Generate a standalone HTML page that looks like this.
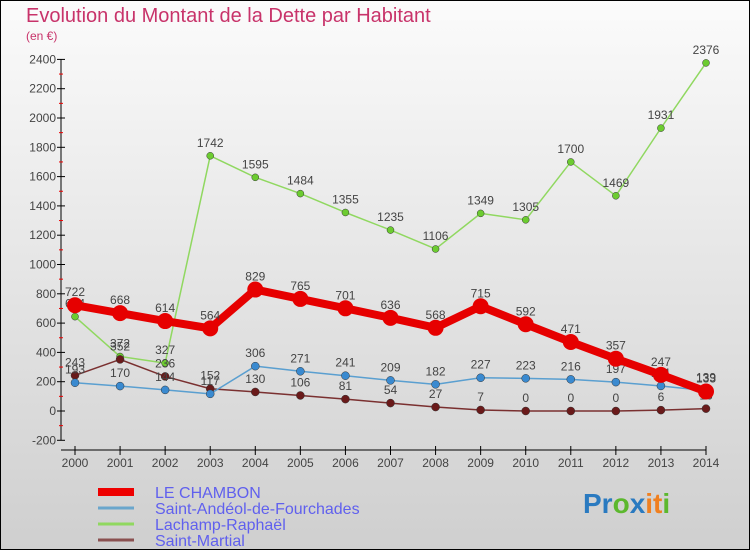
<!DOCTYPE html>
<html><head><meta charset="utf-8"><style>
body{margin:0;width:750px;height:550px;overflow:hidden}
svg{display:block;font-family:"Liberation Sans",sans-serif}
</style></head><body>
<svg id="c" width="750" height="550">
<defs><linearGradient id="bg" x1="0" y1="0" x2="0" y2="1"><stop offset="0" stop-color="#fbfbfb"/><stop offset="1" stop-color="#cfcfcf"/></linearGradient></defs>
<rect x="0.5" y="0.5" width="749" height="549" fill="url(#bg)" stroke="#000"/>
<text x="26" y="22" font-size="20" fill="#c8336a">Evolution du Montant de la Dette par Habitant</text>
<text x="26" y="40" font-size="12" fill="#c8336a">(en €)</text>
<g id="axes"></g><g id="series"></g><g id="legend"></g>
<text x="583" y="513" font-size="28" font-weight="bold"><tspan fill="#2a7ac0">Pr</tspan><tspan fill="#5cb82e">o</tspan><tspan fill="#2a7ac0">x</tspan><tspan fill="#f08020">it</tspan><tspan fill="#5cb82e">i</tspan></text>
</svg>
<script>
const years=[2000,2001,2002,2003,2004,2005,2006,2007,2008,2009,2010,2011,2012,2013,2014];
const chambon=[722,668,614,564,829,765,701,636,568,715,592,471,357,247,133];
const andeol=[193,170,144,117,306,271,241,209,182,227,223,216,197,171,139];
const lachamp=[644,372,327,1742,1595,1484,1355,1235,1106,1349,1305,1700,1469,1931,2376];
const martial=[243,352,236,152,130,106,81,54,27,7,0,0,0,6,16];
const yTicks=[-200,0,200,400,600,800,1000,1200,1400,1600,1800,2000,2200,2400];
const names=["LE CHAMBON","Saint-Andéol-de-Fourchades","Lachamp-Raphaël","Saint-Martial"];
const NS="http://www.w3.org/2000/svg";
const X=i=>75+i*(706-75)/14;
const Y=v=>411-v*0.1465;
function mk(p,t,a){const e=document.createElementNS(NS,t);for(const k in a)e.setAttribute(k,a[k]);p.appendChild(e);return e;}
const ax=document.getElementById('axes');
let l=mk(ax,'line',{x1:61,y1:Y(2400),x2:61,y2:Y(-200),stroke:'#000'});

l=mk(ax,'line',{x1:61,y1:450,x2:X(14),y2:450,stroke:'#000'});

yTicks.forEach(v=>{
  mk(ax,'line',{x1:57,y1:Y(v),x2:65,y2:Y(v),stroke:'#000'});
  if(v<2400)mk(ax,'line',{x1:59,y1:Y(v+100),x2:63,y2:Y(v+100),stroke:'#e00'});
  const t=mk(ax,'text',{x:56,y:Y(v)+4,'font-size':12,'text-anchor':'end',fill:'#444'});t.textContent=v;
  
});
years.forEach((y,i)=>{
  mk(ax,'line',{x1:X(i),y1:446,x2:X(i),y2:455,stroke:'#000'});
  const t=mk(ax,'text',{x:X(i),y:467,'font-size':12,'text-anchor':'middle',fill:'#444'});t.textContent=y;
  
});
const sg=document.getElementById('series');
const defs=[[lachamp,'#90d860','#6ccc30',1.5,3.5,'lachamp-line'],[martial,'#7a3030','#6a1a1a',1.5,4,'martial-line'],[andeol,'#5a9fd0','#3a8ad0',1.5,4,'andeol-line'],[chambon,'#e60000','#e60000',8,8,'chambon-line']];
defs.forEach(([d,c,pc,w,r,n])=>{
  const p=mk(sg,'polyline',{points:d.map((v,i)=>X(i)+','+Y(v)).join(' '),fill:'none',stroke:c,'stroke-width':w,'stroke-linejoin':'round'});
  
  d.forEach((v,i)=>{
    const cc=mk(sg,'circle',{cx:X(i),cy:Y(v),r:r,fill:pc,stroke:r>5?'none':'#333','stroke-width':0.5});
    
    const t=mk(sg,'text',{x:X(i),y:Y(v)-9,'font-size':12,'text-anchor':'middle',fill:'#444'});t.textContent=v;
    
  });
});
const lg=document.getElementById('legend');
const lc=['#ee0000','#6aa6cc','#90d860','#8a5050'],lw=[8,3,3,3];
names.forEach((nm,i)=>{
  const y=492+i*16;
  const ln=mk(lg,'line',{x1:98,y1:y,x2:134,y2:y,stroke:lc[i],'stroke-width':lw[i]});
  
  const t=mk(lg,'text',{x:155,y:y+6,'font-size':16,fill:'#6060ee'});t.textContent=nm;
  
});
</script>
</body></html>
